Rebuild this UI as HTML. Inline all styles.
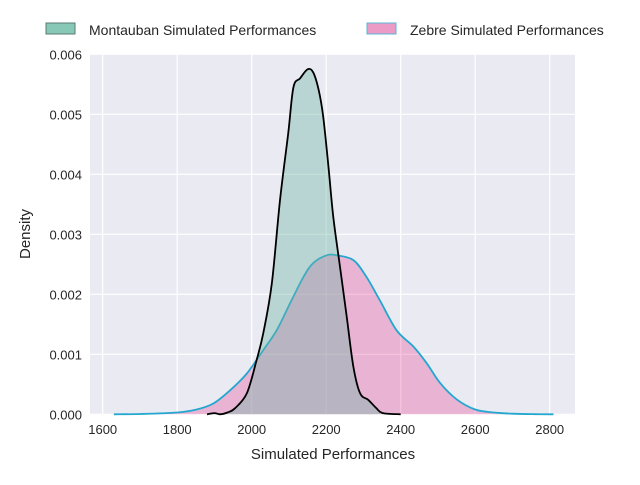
<!DOCTYPE html>
<html><head><meta charset="utf-8"><style>
body{margin:0;background:#fff;}
svg text{font-family:"Liberation Sans",sans-serif;fill:#262626;}
</style></head><body>
<svg id="c" width="640" height="480" xmlns="http://www.w3.org/2000/svg">
<rect x="90" y="54" width="485" height="360" fill="#eaeaf2"/>
<g id="grid"></g>
<g id="series"></g>
<g id="ticks"></g>
<text x="333" y="459" font-size="15" text-anchor="middle">Simulated Performances</text>
<text x="30" y="234" font-size="15" text-anchor="middle" transform="rotate(-90 30 234)">Density</text>
<g>
<g>
<rect x="46" y="23" width="29" height="11" fill="#87c8b7" stroke="#5a7a72" stroke-width="1"/>
<text x="89" y="35" font-size="14">Montauban Simulated Performances</text>
</g>
<g>
<rect x="367" y="23" width="29" height="11" fill="#ec9ac6" stroke="#5ab7d6" stroke-width="1"/>
<text x="410" y="35" font-size="14">Zebre Simulated Performances</text>
</g>
</g>
</svg>
<script>
const xTicks=[1600,1800,2000,2200,2400,2600,2800];
const yTicks=[0,0.001,0.002,0.003,0.004,0.005,0.006];
const yTickLabels=["0.000","0.001","0.002","0.003","0.004","0.005","0.006"];
const montX=[1880,1900,1915,1935,1955,1987,2013,2031,2054,2076,2098,2112,2130,2150,2165,2180,2192,2206,2219,2237,2255,2273,2291,2313,2335,2352,2400];
const montY=[0,0.00002,0,0.00003,0.0001,0.00035,0.0009,0.00135,0.00218,0.00357,0.00468,0.00545,0.0056,0.00575,0.0057,0.0054,0.00496,0.00413,0.00329,0.00246,0.00163,0.00079,0.00035,0.00024,0.0001,0.00002,0];
const zebX=[1630,1700,1800,1852,1897,1942,1987,2031,2067,2103,2139,2165,2201,2228,2273,2308,2344,2389,2434,2470,2506,2550,2600,2650,2700,2760,2810];
const zebY=[0,0.000005,0.00003,0.00008,0.00018,0.0004,0.00068,0.00107,0.0014,0.00185,0.00229,0.00252,0.00265,0.00265,0.00257,0.00229,0.0019,0.0014,0.00113,0.00085,0.00052,0.00025,0.00008,0.00003,0.00001,0.000002,0];
const xs=v=>251.7+(v-2000)/200*74.5;
const ys=v=>414.3-v*60000;
const NS="http://www.w3.org/2000/svg";
function mk(tag,attrs,parent){const e=document.createElementNS(NS,tag);for(const k in attrs)e.setAttribute(k,attrs[k]);parent.appendChild(e);return e;}
const grid=document.getElementById('grid'),ticks=document.getElementById('ticks'),ser=document.getElementById('series');
xTicks.forEach(t=>{
 const l=mk('line',{x1:xs(t),x2:xs(t),y1:54,y2:414,stroke:'#fff','stroke-width':1.2},grid);
 
 
 const tx=mk('text',{x:xs(t),y:434,'font-size':13,'text-anchor':'middle'},ticks);
 tx.textContent=t;
 
 
});
yTicks.forEach((t,i)=>{
 const l=mk('line',{x1:90,x2:575,y1:ys(t),y2:ys(t),stroke:'#fff','stroke-width':1.2},grid);
 
 
 const tx=mk('text',{x:82,y:ys(t)+5,'font-size':13,'text-anchor':'end'},ticks);
 tx.textContent=yTickLabels[i];
 
 
});
function smoothPath(X,Y){
 const p=X.map((x,i)=>[xs(x),ys(Y[i])]);
 let d='M'+p[0][0]+','+p[0][1];
 for(let i=0;i<p.length-1;i++){
  const p0=p[i-1]||p[i],p1=p[i],p2=p[i+1],p3=p[i+2]||p2;
  const c1=[p1[0]+(p2[0]-p0[0])/6,p1[1]+(p2[1]-p0[1])/6];
  const c2=[p2[0]-(p3[0]-p1[0])/6,p2[1]-(p3[1]-p1[1])/6];
  d+=` C${c1[0]},${Math.min(c1[1],414.3)} ${c2[0]},${Math.min(c2[1],414.3)} ${p2[0]},${p2[1]}`;
 }
 return d;
}
function series(X,Y,fill,op,stroke,name){
 const d=smoothPath(X,Y);
 const a=mk('path',{d:d+` L${xs(X[X.length-1])},${ys(0)} L${xs(X[0])},${ys(0)} Z`,fill:fill,'fill-opacity':op,stroke:'none'},ser);
 
 
 const l=mk('path',{d:d,fill:'none',stroke:stroke,'stroke-width':1.8},ser);
 
 
}
series(zebX,zebY,'#e7298a',0.28,'#22a7cf','zebre-density');
series(montX,montY,'#6fb3a6',0.4,'#000','montauban-density');
</script>
</body></html>
